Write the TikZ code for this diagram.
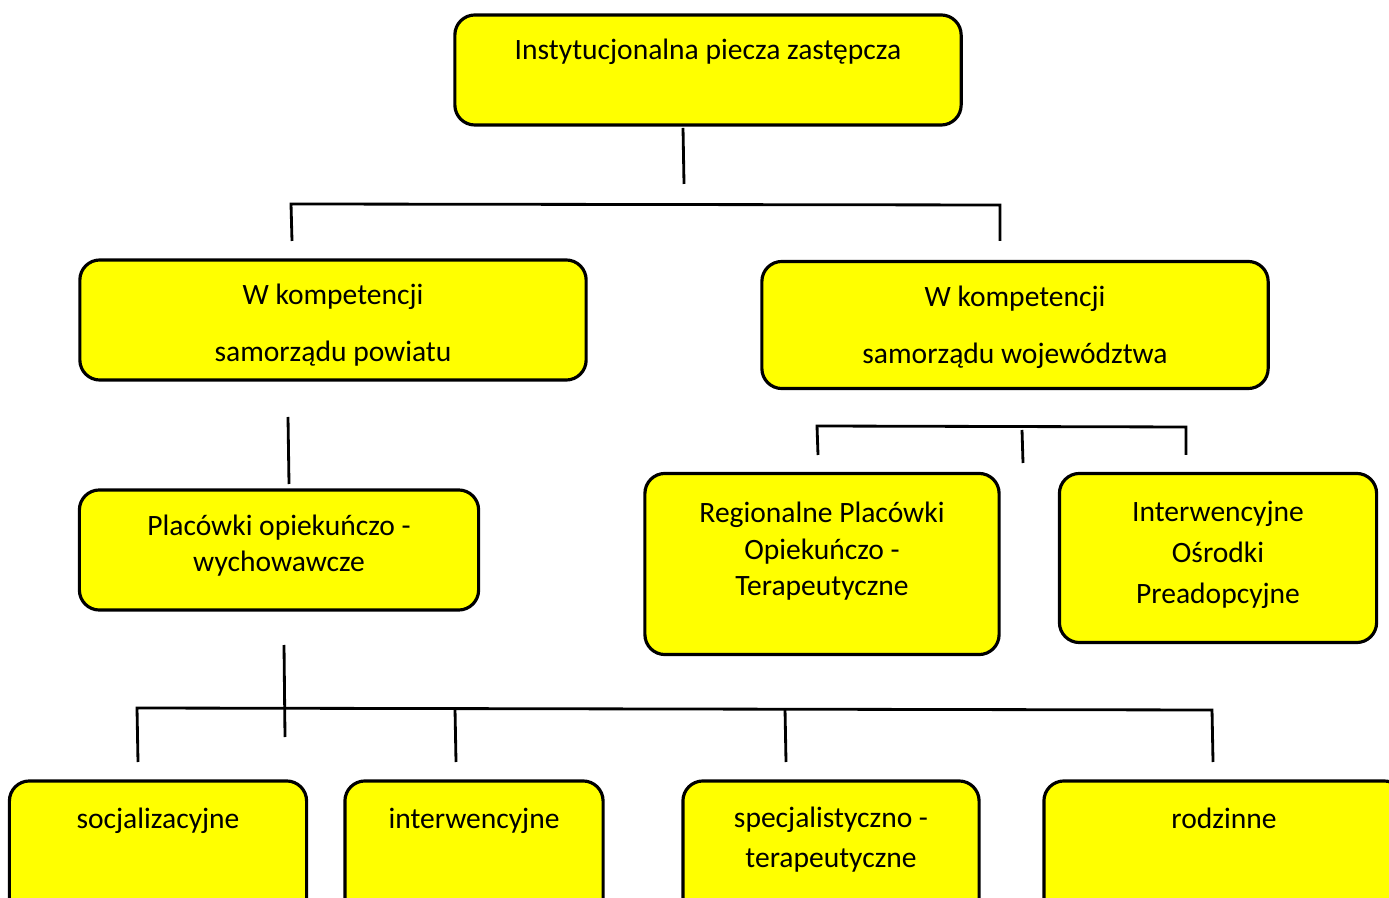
\documentclass[tikz,border=0pt]{standalone}
\usepackage{fontspec}
\setmainfont{Carlito}
\definecolor{boxyellow}{RGB}{255,255,0}
\begin{document}
\begin{tikzpicture}[x=0.01cm,y=-0.01cm]
  \tikzset{box/.style = {draw,fill=boxyellow,rounded corners=2mm,line width=0.9pt,inner sep=0pt}}
  \tikzset{txt/.style = {align=center,inner sep=0pt,anchor=north,yshift=-2.25mm,
      font=\fontsize{8.4}{10.4}\selectfont,execute at begin node=\strut}}
  \tikzset{link/.style = {line width=0.8pt}}
  \useasboundingbox (0,0) rectangle (1389,898);

  % boxes
  \node[box,minimum width=5.06cm,minimum height=1.10cm,label={[txt,yshift=0.3mm]north:Instytucjonalna piecza zastępcza}] (inst) at (708,70) {};
  \node[box,minimum width=5.06cm,minimum height=1.20cm,label={[txt,yshift=-0.25mm]north:W kompetencji\\[5.8pt] samorządu powiatu}] (pow) at (333,320) {};
  \node[box,minimum width=5.06cm,minimum height=1.27cm,label={[txt,yshift=-0.3mm]north:W kompetencji\\[5.8pt] samorządu województwa}] (woj) at (1015,325) {};
  \node[box,minimum width=3.99cm,minimum height=1.20cm,label={[txt,yshift=-0.3mm]north:Placówki opiekuńczo -\\wychowawcze}] (plac) at (279,550) {};
  \node[box,minimum width=3.54cm,minimum height=1.81cm,label={[txt,yshift=-0.7mm]north:Regionalne Placówki\\Opiekuńczo -\\Terapeutyczne}] (reg) at (822,564) {};
  \node[box,minimum width=3.17cm,minimum height=1.69cm,label={[txt,yshift=-0.6mm]north:Interwencyjne\\[1.3pt] Ośrodki\\[1.3pt] Preadopcyjne}] (ios) at (1218,558) {};
  \node[box,minimum width=2.97cm,minimum height=1.50cm,label={[txt]north:socjalizacyjne}] (soc) at (158,856) {};
  \node[box,minimum width=2.58cm,minimum height=1.50cm,label={[txt]north:interwencyjne}] (int) at (474,856) {};
  \node[box,minimum width=2.96cm,minimum height=1.50cm,label={[txt,yshift=-0.4mm]north:specjalistyczno -\\[1pt] terapeutyczne}] (spec) at (831,856) {};
  \node[box,minimum width=3.60cm,minimum height=1.50cm,label={[txt]north:rodzinne}] (rodz) at (1224,856) {};

  % connectors
  \coordinate (t1) at (683,128); \coordinate (t2) at (684,184);
  \coordinate (h1) at (291,204); \coordinate (h2) at (1000,205);
  \coordinate (d1) at (292,241); \coordinate (d2) at (1000,241);
  \draw[link] (t1) -- (t2);
  \draw[link] (d1) -- (h1) -- (h2) -- (d2);

  \coordinate (p1) at (288,417); \coordinate (p2) at (289,484);
  \draw[link] (p1) -- (p2);

  \coordinate (r1) at (817,426); \coordinate (r2) at (1186,427);
  \draw[link] (818,455) -- (r1) -- (r2) -- (1186,455);
  \draw[link] (1022,430) -- (1023,463);

  \coordinate (b1) at (137,708); \coordinate (b2) at (1212,710);
  \draw[link] (284,645) -- (285,737);
  \draw[link] (138,762) -- (b1) -- (b2) -- (1213,762);
  \foreach \x in {455,785}
    \draw[link] (\x,709) -- (\x+1,762);
\end{tikzpicture}
\end{document}
